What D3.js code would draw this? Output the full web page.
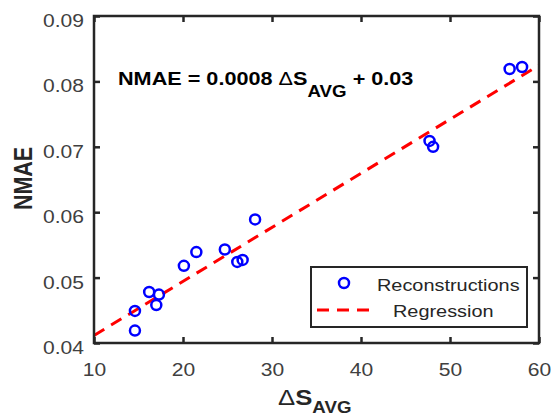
<!DOCTYPE html>
<html><head><meta charset="utf-8">
<script src="https://cdn.jsdelivr.net/npm/d3@7"></script>
<style>body{margin:0;background:#fff}svg{display:block}text{font-family:"Liberation Sans",Arial,sans-serif}</style>
</head><body>
<svg id="c" width="553" height="418"></svg>
<script>
const xValues = [14.6, 14.6, 16.2, 17.3, 17.0, 20.1, 21.5, 24.7, 26.1, 26.7, 28.1, 47.7, 48.1, 56.7, 58.1];
const yValues = [0.0419, 0.0449, 0.0478, 0.0474, 0.0458, 0.0518, 0.0539, 0.0543, 0.0524, 0.0527, 0.0589, 0.0709, 0.0700, 0.0819, 0.0822];
const xTicks = [10, 20, 30, 40, 50, 60];
const yTicks = [0.04, 0.05, 0.06, 0.07, 0.08, 0.09];
const regSlope = 0.000826;
const regIntercept = 0.0329;
const legendLabels = ["Reconstructions", "Regression"];

const K = 1.17; // horizontal stretch of glyphs in the reference
const svg = d3.select("#c");
const L = 94, R = 539, T = 16, B = 343;
const x = d3.scaleLinear().domain([10, 60]).range([L, R]);
const y = d3.scaleLinear().domain([0.04, 0.09]).range([B, T]);
const axisColor = "#262626";

function stretch(sel) {
  sel.each(function () {
    const ax = +this.getAttribute("x") || 0;
    this.setAttribute("transform", `translate(${ax},0) scale(${K},1) translate(${-ax},0)`);
  });
}

// regression line
svg.append("clipPath").attr("id", "pc").append("rect")
  .attr("x", L).attr("y", T).attr("width", R - L).attr("height", B - T);
const g = svg.append("g").attr("clip-path", "url(#pc)");
g.append("line")
  .attr("x1", x(10)).attr("y1", y(regIntercept + regSlope * 10))
  .attr("x2", x(60)).attr("y2", y(regIntercept + regSlope * 60))
  .attr("stroke", "#ff0000").attr("stroke-width", 3).attr("stroke-dasharray", "12,8");

// points
svg.append("g").selectAll("circle").data(xValues).join("circle")
  .attr("cx", (d) => x(d)).attr("cy", (d, i) => y(yValues[i])).attr("r", 5)
  .attr("fill", "none").attr("stroke", "#0000ff").attr("stroke-width", 2.5);

// axes
function styleAxis(sel, hideText) {
  sel.select(".domain").remove();
  sel.selectAll(".tick line").attr("stroke", axisColor).attr("stroke-width", 2.5);
  sel.selectAll(".tick text").attr("fill", "#404040").style("font-size", "18px");
  if (hideText) sel.selectAll(".tick text").remove();
}
svg.append("g").attr("transform", `translate(0,${B})`)
  .call(d3.axisBottom(x).tickValues(xTicks).tickSizeInner(-6).tickSizeOuter(0).tickFormat(d3.format("d")))
  .call((s) => styleAxis(s, false))
  .call((s) => s.selectAll(".tick text").attr("y", 33).attr("dy", null).call(stretch));
svg.append("g").attr("transform", `translate(0,${T})`)
  .call(d3.axisTop(x).tickValues(xTicks).tickSizeInner(-6).tickSizeOuter(0))
  .call((s) => styleAxis(s, true));
svg.append("g").attr("transform", `translate(${L},0)`)
  .call(d3.axisLeft(y).tickValues(yTicks).tickSizeInner(-6).tickSizeOuter(0).tickFormat(d3.format(".2f")))
  .call((s) => styleAxis(s, false))
  .call((s) => s.selectAll(".tick text").attr("x", -10).attr("y", 10.5).attr("dy", null).call(stretch));
svg.append("g").attr("transform", `translate(${R},0)`)
  .call(d3.axisRight(y).tickValues(yTicks).tickSizeInner(-6).tickSizeOuter(0))
  .call((s) => styleAxis(s, true));

svg.append("rect").attr("x", L).attr("y", T).attr("width", R - L).attr("height", B - T)
  .attr("fill", "none").attr("stroke", axisColor).attr("stroke-width", 2.5);

// equation
const eq = svg.append("text").attr("x", 118).attr("y", 85).attr("font-weight", "bold")
  .style("font-size", "18.5px").attr("fill", "#000");
eq.append("tspan").text("NMAE = 0.0008 ");
eq.append("tspan").attr("font-weight", "normal").text("\u0394");
eq.append("tspan").text("S");
eq.append("tspan").attr("dy", 12).style("font-size", "16px").text("AVG");
eq.append("tspan").attr("dy", -12).text(" + 0.03");
eq.call(stretch);

// y label
svg.append("text").attr("transform", `translate(32,178.5) scale(${K},1) rotate(-90)`)
  .attr("text-anchor", "middle").attr("font-weight", "bold").style("font-size", "21.5px")
  .attr("fill", "#262626").text("NMAE");

// x label
const xl = svg.append("text").attr("x", 278).attr("y", 405)
  .attr("font-weight", "bold").style("font-size", "22px").attr("fill", "#262626");
xl.append("tspan").attr("font-weight", "normal").text("\u0394");
xl.append("tspan").text("S");
xl.append("tspan").attr("dy", 8).style("font-size", "16px").text("AVG");
xl.call(stretch);

// legend
const lg = svg.append("g");
lg.append("rect").attr("x", 311).attr("y", 267).attr("width", 216).attr("height", 60)
  .attr("fill", "#fff").attr("stroke", axisColor).attr("stroke-width", 2);
lg.append("circle").attr("cx", 344).attr("cy", 283).attr("r", 5)
  .attr("fill", "none").attr("stroke", "#0000ff").attr("stroke-width", 2.5);
lg.append("line").attr("x1", 317).attr("x2", 372).attr("y1", 310).attr("y2", 310)
  .attr("stroke", "#ff0000").attr("stroke-width", 3).attr("stroke-dasharray", "12,8");
lg.append("text").attr("x", 377).attr("y", 291).style("font-size", "17px").attr("fill", "#262626").text(legendLabels[0]).call(stretch);
lg.append("text").attr("x", 393).attr("y", 317).style("font-size", "17px").attr("fill", "#262626").text(legendLabels[1]).call(stretch);
</script>
</body></html>
